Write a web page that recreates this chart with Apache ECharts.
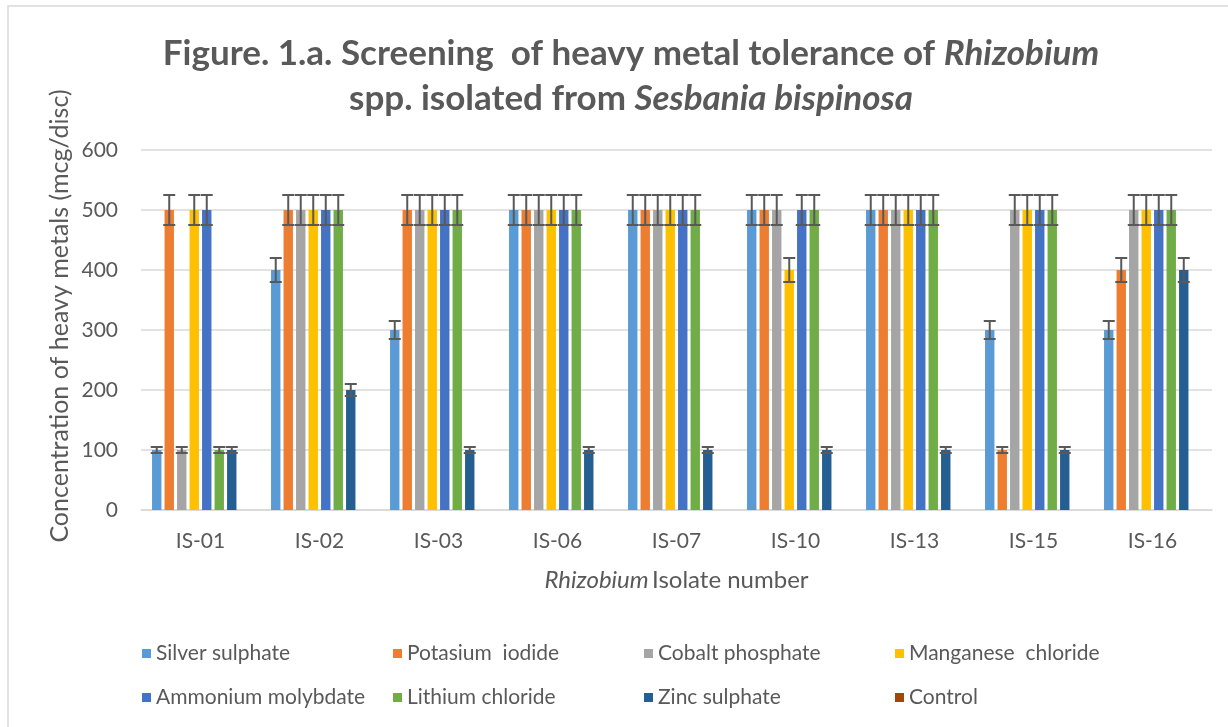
<!DOCTYPE html>
<html>
<head>
<meta charset="utf-8">
<script src="https://cdn.jsdelivr.net/npm/echarts@6/dist/echarts.min.js"></script>
<style>html,body{margin:0;padding:0;background:#fff;}#c{width:1228px;height:727px;}</style>
</head>
<body>
<div id="c"></div>
<script>
// ---- Data ----
const categories = ['IS-01','IS-02','IS-03','IS-06','IS-07','IS-10','IS-13','IS-15','IS-16'];
const silverSulphate     = [100, 400, 300, 500, 500, 500, 500, 300, 300];
const potasiumIodide     = [500, 500, 500, 500, 500, 500, 500, 100, 400];
const cobaltPhosphate    = [100, 500, 500, 500, 500, 500, 500, 500, 500];
const manganeseChloride  = [500, 500, 500, 500, 500, 400, 500, 500, 500];
const ammoniumMolybdate  = [500, 500, 500, 500, 500, 500, 500, 500, 500];
const lithiumChloride    = [100, 500, 500, 500, 500, 500, 500, 500, 500];
const zincSulphate       = [100, 200, 100, 100, 100, 100, 100, 100, 400];
const control            = [0, 0, 0, 0, 0, 0, 0, 0, 0];
const seriesNames = ['Silver sulphate','Potasium  iodide','Cobalt phosphate','Manganese  chloride',
                     'Ammonium molybdate','Lithium chloride','Zinc sulphate','Control'];
const seriesValues = [silverSulphate, potasiumIodide, cobaltPhosphate, manganeseChloride,
                      ammoniumMolybdate, lithiumChloride, zincSulphate, control];
const errorPercent = 5; // Excel percentage error bars
const yTicks = [0, 100, 200, 300, 400, 500, 600];

// ---- Style ----
const colors = ['#5B9BD5','#ED7D31','#A5A5A5','#FFC000','#4472C4','#70AD47','#255E91','#9E480E'];
const FONT = 'Lato';
const TXT = '#595959';
const BAR_W = 0.079;   // fraction of category width
const BAR_GAP = 0.33;  // fraction of bar width
const N = seriesNames.length;

const chart = echarts.init(document.getElementById('c'));

const series = [];
seriesValues.forEach((vals, i) => {
  series.push({
    name: seriesNames[i], type: 'bar', data: vals,
    barWidth: (BAR_W * 100) + '%', barGap: (BAR_GAP * 100) + '%',
    itemStyle: { color: colors[i] }, z: 2
  });
});
seriesValues.forEach((vals, i) => {
  series.push({
    type: 'custom', name: seriesNames[i] + ' err', z: 5, silent: true,
    data: vals.map((v, k) => [k, v * (1 - errorPercent / 100), v * (1 + errorPercent / 100), v]),
    encode: { x: 0, y: [1, 2] },
    renderItem: function (params, api) {
      if (api.value(3) <= 0) return null;
      const cat = api.value(0);
      const band = api.size([1, 0])[0];
      const bw = band * BAR_W;
      const gap = bw * BAR_GAP;
      const total = N * bw + (N - 1) * gap;
      const c = api.coord([cat, api.value(3)]);
      const x = c[0] - total / 2 + bw / 2 + i * (bw + gap);
      const lo = api.coord([cat, api.value(1)])[1];
      const hi = api.coord([cat, api.value(2)])[1];
      const half = 6;
      const st = { stroke: '#595959', lineWidth: 2 };
      return { type: 'group', children: [
        { type: 'line', shape: { x1: x, y1: lo, x2: x, y2: hi }, style: st },
        { type: 'line', shape: { x1: x - half, y1: lo, x2: x + half, y2: lo }, style: st },
        { type: 'line', shape: { x1: x - half, y1: hi, x2: x + half, y2: hi }, style: st }
      ]};
    }
  });
});

chart.setOption({
  backgroundColor: '#fff',
  animation: false,
  color: colors,
  title: {
    text: '{n|Figure. 1.a. Screening  of heavy metal tolerance of }{i|Rhizobium}\n{n|spp. isolated from }{i|Sesbania bispinosa}',
    left: 626, top: 26, textAlign: 'center',
    textStyle: {
      rich: {
        n: { fontFamily: FONT, fontWeight: 'bold', fontSize: 35, color: TXT, lineHeight: 45 },
        i: { fontFamily: FONT, fontWeight: 'bold', fontStyle: 'italic', fontSize: 35, color: TXT, lineHeight: 45 }
      }
    }
  },
  graphic: [{
    type: 'rect', shape: { x: 8, y: 6, width: 1260, height: 760 },
    style: { fill: 'none', stroke: '#D9D9D9', lineWidth: 1.5 }, silent: true, z: -1
  }, {
    type: 'text', x: 60, y: 316, rotation: Math.PI / 2, silent: true,
    style: { text: 'Concentration of heavy metals (mcg/disc)', fontFamily: FONT, fontSize: 25,
             fill: TXT, align: 'center', verticalAlign: 'middle' }
  }],
  legend: {
    data: seriesNames,
    left: 137, top: 633, width: 1020,
    orient: 'horizontal',
    itemWidth: 9, itemHeight: 9, itemGap: 13,
    icon: 'rect',
    textStyle: { fontFamily: FONT, fontSize: 21, color: TXT, width: 224, overflow: 'none', lineHeight: 31 }
  },
  grid: { left: 141, right: 16, top: 150, bottom: 217, containLabel: false },
  xAxis: {
    type: 'category', data: categories,
    name: '{i|Rhizobium} {n|Isolate number}',
    nameLocation: 'middle', nameGap: 58,
    nameTextStyle: { rich: {
      i: { fontFamily: FONT, fontStyle: 'italic', fontSize: 24, color: TXT },
      n: { fontFamily: FONT, fontSize: 24, color: TXT }
    }},
    axisLine: { show: true, lineStyle: { color: '#D9D9D9', width: 1.5 } },
    axisTick: { show: false },
    axisLabel: { fontFamily: FONT, fontSize: 21, color: TXT, margin: 21 }
  },
  yAxis: {
    type: 'value', min: yTicks[0], max: yTicks[yTicks.length - 1], interval: 100,
    axisLine: { show: false }, axisTick: { show: false },
    axisLabel: { fontFamily: FONT, fontSize: 21, color: TXT, margin: 23 },
    splitLine: { lineStyle: { color: '#D9D9D9', width: 1.5 } }
  },
  series: series
});
</script>
</body>
</html>
